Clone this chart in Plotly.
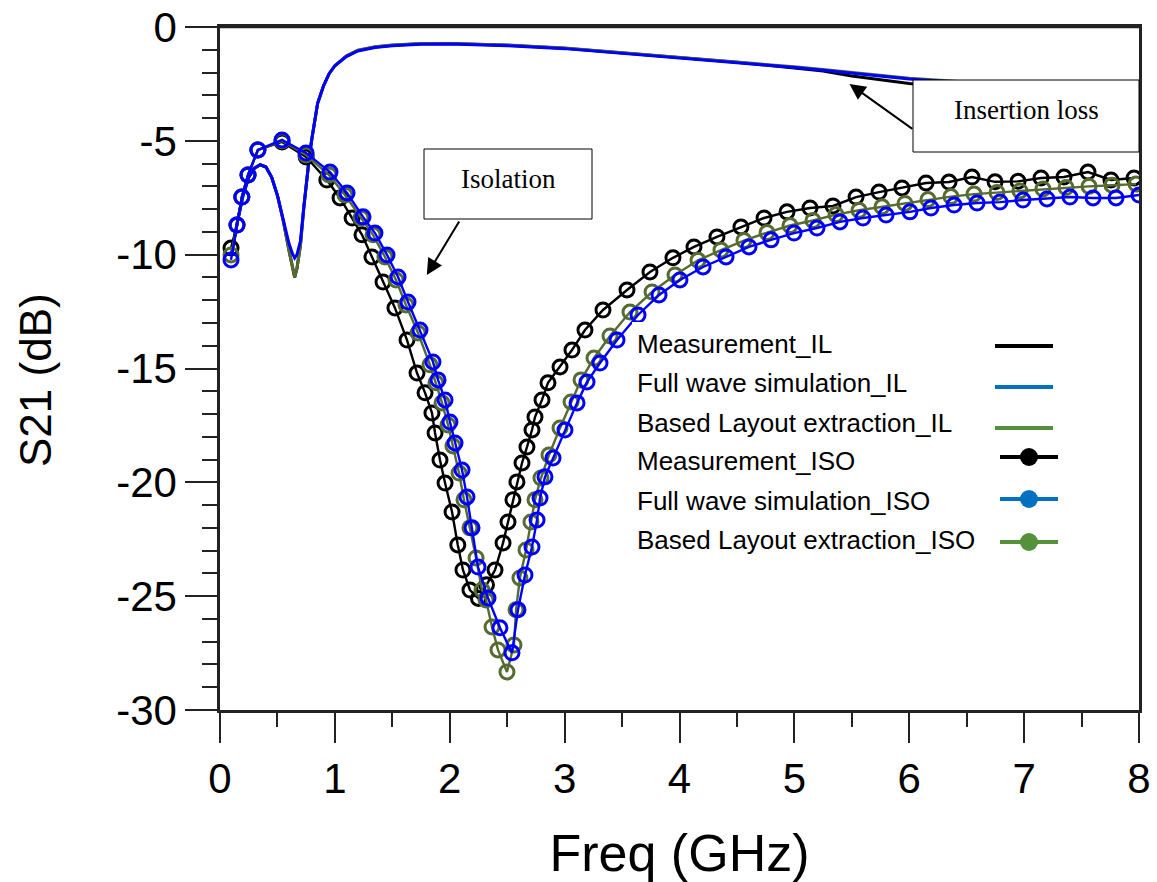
import plotly.graph_objects as go

# ---------------- data ----------------
# Insertion loss (lines only)
il_freq = [0.10, 0.15, 0.20, 0.25, 0.30, 0.35, 0.40, 0.45, 0.50, 0.55, 0.60, 0.63, 0.65, 0.67,
           0.70, 0.73, 0.76, 0.78, 0.80, 0.85, 0.90, 0.95, 1.00, 1.10, 1.20, 1.35, 1.50, 1.75,
           2.00, 2.50, 3.00, 3.50, 4.00, 4.50, 5.00, 5.25, 5.50, 5.75, 6.00, 6.50, 7.00, 7.50, 8.00]
il_measurement = [-10.0, -8.6, -7.4, -6.6, -6.2, -6.05, -6.15, -6.6, -7.4, -8.5, -9.8, -10.5, -11.0, -10.6,
                  -9.6, -7.9, -6.4, -5.6, -4.9, -3.35, -2.6, -2.05, -1.7, -1.28, -1.03, -0.88, -0.8, -0.74,
                  -0.73, -0.8, -0.93, -1.13, -1.33, -1.55, -1.8, -1.93, -2.15, -2.3, -2.48, -2.7, -2.85, -3.0, -3.15]
il_fullwave = [-10.0, -8.6, -7.4, -6.6, -6.2, -6.05, -6.15, -6.6, -7.4, -8.4, -9.5, -9.95, -10.15, -10.0,
               -9.4, -7.9, -6.4, -5.6, -4.9, -3.35, -2.6, -2.05, -1.7, -1.3, -1.05, -0.9, -0.82, -0.76,
               -0.75, -0.82, -0.95, -1.15, -1.35, -1.55, -1.78, -1.9, -2.03, -2.15, -2.28, -2.45, -2.6, -2.75, -2.9]
il_layout = [-10.0, -8.6, -7.4, -6.6, -6.2, -6.05, -6.15, -6.6, -7.4, -8.5, -9.8, -10.5, -11.0, -10.6,
             -9.6, -7.9, -6.4, -5.6, -4.9, -3.35, -2.6, -2.05, -1.7, -1.27, -1.02, -0.87, -0.79, -0.73,
             -0.72, -0.79, -0.92, -1.12, -1.32, -1.52, -1.75, -1.87, -2.0, -2.12, -2.25, -2.42, -2.57, -2.72, -2.87]

# Isolation (lines + markers)
iso_meas_freq = [0.096, 0.148, 0.19, 0.244, 0.33, 0.54, 0.75, 0.93, 1.045, 1.15, 1.236, 1.323, 1.419,
                 1.523, 1.628, 1.715, 1.785, 1.845, 1.872, 1.915, 1.959, 2.02, 2.07, 2.115, 2.176, 2.25,
                 2.32, 2.394, 2.464, 2.507, 2.55, 2.585, 2.629, 2.672, 2.716, 2.742, 2.803, 2.855, 2.96,
                 3.064, 3.177, 3.334, 3.543, 3.743, 3.943, 4.126, 4.326, 4.535, 4.736, 4.936, 5.136,
                 5.336, 5.537, 5.737, 5.937, 6.146, 6.346, 6.546, 6.747, 6.947, 7.147, 7.347, 7.556,
                 7.756, 7.957]
iso_meas_db = [-9.71, -8.70, -7.47, -6.50, -5.40, -5.05, -5.71, -6.72, -7.51, -8.39, -9.13, -10.10, -11.20,
               -12.34, -13.75, -15.20, -16.07, -16.95, -17.83, -19.02, -20.03, -21.30, -22.75, -23.85, -24.73, -25.10,
               -24.50, -23.85, -22.66, -21.74, -20.77, -19.98, -19.15, -18.45, -17.70, -17.13, -16.38, -15.63, -14.93,
               -14.19, -13.31, -12.43, -11.55, -10.76, -10.14, -9.66, -9.22, -8.78, -8.39, -8.12, -7.95,
               -7.86, -7.47, -7.25, -7.07, -6.85, -6.81, -6.59, -6.80, -6.78, -6.63, -6.59, -6.37,
               -6.72, -6.63]

iso_fw_freq = [0.096, 0.148, 0.19, 0.244, 0.33, 0.54, 0.749, 0.958, 1.106, 1.245, 1.349, 1.454, 1.55,
               1.637, 1.741, 1.854, 1.898, 1.959, 2.002, 2.046, 2.107, 2.15, 2.194, 2.246, 2.333, 2.437,
               2.542, 2.594, 2.655, 2.716, 2.76, 2.786, 2.829, 2.899, 3.003, 3.108, 3.195, 3.308, 3.456,
               3.639, 3.822, 4.004, 4.205, 4.405, 4.605, 4.797, 4.997, 5.197, 5.397, 5.597, 5.798,
               6.006, 6.189, 6.39, 6.59, 6.79, 6.99, 7.199, 7.399, 7.60, 7.80, 8.0]
iso_fw_db = [-10.23, -8.70, -7.47, -6.50, -5.40, -4.96, -5.53, -6.37, -7.29, -8.34, -9.05, -10.01, -10.98,
             -12.08, -13.31, -14.71, -15.50, -16.38, -17.35, -18.27, -19.46, -20.64, -22.00, -23.72, -25.08, -26.39,
             -27.49, -25.60, -24.07, -22.84, -21.65, -20.69, -19.76, -18.93, -17.70, -16.51, -15.59, -14.76, -13.75,
             -12.65, -11.77, -11.11, -10.54, -10.10, -9.66, -9.35, -9.05, -8.83, -8.56, -8.39, -8.26,
             -8.12, -7.95, -7.82, -7.73, -7.69, -7.60, -7.55, -7.47, -7.51, -7.51, -7.38]

iso_layout_freq = [0.096, 0.148, 0.19, 0.244, 0.33, 0.54, 0.749, 0.949, 1.088, 1.227, 1.332, 1.436, 1.532,
                   1.619, 1.724, 1.828, 1.88, 1.933, 1.985, 2.028, 2.081, 2.124, 2.176, 2.229, 2.281, 2.316,
                   2.368, 2.42, 2.498, 2.559, 2.577, 2.611, 2.664, 2.707, 2.742, 2.794, 2.864, 2.96, 3.056,
                   3.143, 3.256, 3.395, 3.569, 3.761, 3.961, 4.161, 4.361, 4.561, 4.762, 4.962, 5.162,
                   5.362, 5.563, 5.763, 5.963, 6.163, 6.363, 6.564, 6.764, 6.964, 7.164, 7.365, 7.565,
                   7.765, 7.974]
iso_layout_db = [-10.01, -8.70, -7.47, -6.50, -5.40, -5.00, -5.62, -6.50, -7.38, -8.39, -9.13, -10.10, -11.11,
                 -12.21, -13.44, -14.84, -15.63, -16.51, -17.48, -18.40, -19.59, -20.77, -22.00, -23.32, -24.73, -25.17,
                 -26.35, -27.36, -28.33, -27.14, -25.60, -24.20, -22.97, -21.74, -20.77, -19.81, -18.80, -17.61, -16.47,
                 -15.50, -14.54, -13.57, -12.52, -11.64, -10.89, -10.25, -9.80, -9.38, -9.03, -8.72, -8.50,
                 -8.24, -8.05, -7.90, -7.75, -7.58, -7.45, -7.34, -7.27, -7.20, -7.12, -7.05, -7.00,
                 -6.95, -6.90]

legend_labels = ["Measurement_IL", "Full wave simulation_IL", "Based Layout extraction_IL",
                 "Measurement_ISO", "Full wave simulation_ISO", "Based Layout extraction_ISO"]
legend_colors = ["#000000", "#0070C0", "#54913A", "#000000", "#0070C0", "#54913A"]

y_ticks = [0, -5, -10, -15, -20, -25, -30]
y_ticklabels = ["0", "-5", "-10", "-15", "-20", "-25", "-30"]
x_ticks = [0, 1, 2, 3, 4, 5, 6, 7, 8]

BLACK = "#000000"
BLUE = "#0000FF"
OLIVE = "#556B2F"

fig = go.Figure()

# IL traces
for yv, col in [(il_measurement, BLACK), (il_layout, OLIVE), (il_fullwave, BLUE)]:
    fig.add_trace(go.Scatter(x=il_freq, y=yv, mode="lines", line=dict(color=col, width=3),
                             showlegend=False, hoverinfo="skip"))

# ISO traces
for xv, yv, col in [(iso_meas_freq, iso_meas_db, BLACK),
                    (iso_layout_freq, iso_layout_db, OLIVE),
                    (iso_fw_freq, iso_fw_db, BLUE)]:
    fig.add_trace(go.Scatter(x=xv, y=yv, mode="lines+markers",
                             line=dict(color=col, width=2.4),
                             marker=dict(symbol="circle-open", size=14, color=col,
                                         line=dict(width=3, color=col)),
                             showlegend=False, hoverinfo="skip"))

# ---------------- layout helpers (page pixel -> paper) ----------------
FW, FH = 1157, 882
L, R, T, B = 220, 1139, 27, 710   # plot area in page pixels
def px(x):
    return (x - L) / (R - L)
def py(y):
    return (B - y) / (B - T)

shapes = []
annotations = []

# top frame line
shapes.append(dict(type="line", xref="paper", yref="paper", x0=0, x1=1, y0=1, y1=1,
                   line=dict(color="#222", width=2.5), layer="above"))

# legend background
shapes.append(dict(type="rect", xref="paper", yref="paper", x0=px(632), x1=px(1068),
                   y0=py(562), y1=py(322), fillcolor="white", line=dict(width=0), layer="above"))
row_y = [344, 383, 423, 461, 501, 540]
sw_y = [346, 387, 428, 457, 499, 542]
for i, (lab, col) in enumerate(zip(legend_labels, legend_colors)):
    annotations.append(dict(text=lab, xref="paper", yref="paper", x=px(635), y=py(row_y[i]),
                            xanchor="left", yanchor="middle", showarrow=False,
                            font=dict(family="Liberation Sans, Arial", size=26, color="black")))
    if i < 3:
        shapes.append(dict(type="line", xref="paper", yref="paper", x0=px(995), x1=px(1053),
                           y0=py(sw_y[i]), y1=py(sw_y[i]), line=dict(color=col, width=4), layer="above"))
    else:
        shapes.append(dict(type="line", xref="paper", yref="paper", x0=px(1000), x1=px(1058),
                           y0=py(sw_y[i]), y1=py(sw_y[i]), line=dict(color=col, width=4), layer="above"))
        shapes.append(dict(type="circle", xref="paper", yref="paper", x0=px(1020), x1=px(1038),
                           y0=py(sw_y[i] + 9), y1=py(sw_y[i] - 9), fillcolor=col,
                           line=dict(color=col, width=0), layer="above"))

# callout boxes
shapes.append(dict(type="rect", xref="paper", yref="paper", x0=px(913), x1=px(1139),
                   y0=py(152), y1=py(80), fillcolor="white", line=dict(color="black", width=1), layer="above"))
shapes.append(dict(type="rect", xref="paper", yref="paper", x0=px(424), x1=px(592),
                   y0=py(219), y1=py(149), fillcolor="white", line=dict(color="black", width=1), layer="above"))
annotations.append(dict(text="Insertion loss", xref="paper", yref="paper", x=px(1026), y=py(110),
                        xanchor="center", yanchor="middle", showarrow=False,
                        font=dict(family="Liberation Serif, Times New Roman", size=27, color="black")))
annotations.append(dict(text="Isolation", xref="paper", yref="paper", x=px(508), y=py(179),
                        xanchor="center", yanchor="middle", showarrow=False,
                        font=dict(family="Liberation Serif, Times New Roman", size=27, color="black")))
# arrows
annotations.append(dict(text="", x=5.48, y=-2.5, ax=6.04, ay=-4.52, xref="x", yref="y",
                        axref="x", ayref="y", showarrow=True, arrowhead=2, arrowsize=1.6,
                        arrowwidth=2, arrowcolor="black"))
annotations.append(dict(text="", x=1.80, y=-10.89, ax=2.09, ay=-8.48, xref="x", yref="y",
                        axref="x", ayref="y", showarrow=True, arrowhead=2, arrowsize=1.6,
                        arrowwidth=2, arrowcolor="black"))
# y-axis title (rotated)
annotations.append(dict(text="S21 (dB)", xref="paper", yref="paper", x=px(36), y=py(380),
                        xanchor="center", yanchor="middle", textangle=-90, showarrow=False,
                        font=dict(family="Liberation Sans, Arial", size=44, color="black")))

axis_font = dict(family="Liberation Sans, Arial", size=42, color="black")

fig.update_layout(
    width=FW, height=FH,
    margin=dict(l=L, r=FW - R, t=T, b=FH - B, pad=0, autoexpand=False),
    paper_bgcolor="white", plot_bgcolor="white",
    showlegend=False,
    shapes=shapes, annotations=annotations,
    xaxis=dict(range=[0, 8], tickvals=x_ticks, ticks="outside", ticklen=30, tickwidth=2,
               tickcolor="#222", showgrid=False, zeroline=False, showline=True, linewidth=2.5,
               linecolor="#222", mirror=True, tickfont=axis_font, automargin=False,
               ticklabeloverflow="allow",
               minor=dict(dtick=0.5, ticks="outside", ticklen=14, tickwidth=2, tickcolor="#222"),
               title=dict(text="Freq (GHz)", font=dict(family="Liberation Sans, Arial", size=52, color="black"),
                          standoff=35)),
    yaxis=dict(range=[-30, 0], tickvals=y_ticks, ticktext=y_ticklabels, ticks="outside", ticklen=32,
               tickwidth=2, tickcolor="#222", showgrid=False, zeroline=False, showline=True,
               linewidth=2.5, linecolor="#222", mirror=True, tickfont=axis_font, automargin=False,
               ticklabeloverflow="allow",
               minor=dict(dtick=1, ticks="outside", ticklen=15, tickwidth=2, tickcolor="#222")),
)

fig.write_html("out.html", config={"displayModeBar": False},
               post_script="document.body.style.margin='0';")
